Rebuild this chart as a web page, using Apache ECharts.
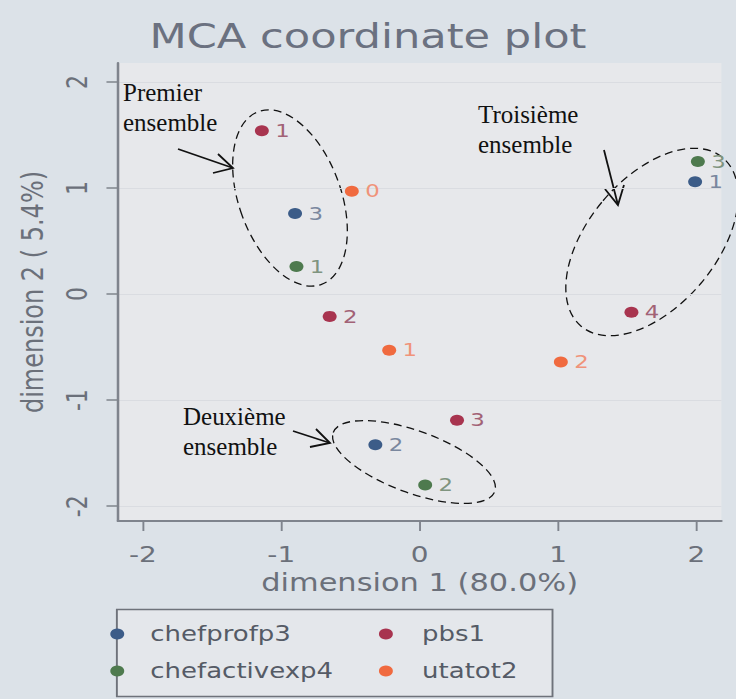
<!DOCTYPE html>
<html>
<head>
<meta charset="utf-8">
<script src="https://cdn.jsdelivr.net/npm/echarts@6/dist/echarts.min.js"></script>
<style>
html,body{margin:0;padding:0;background:#dce2e8;overflow:hidden;}
#chart{width:580px;height:699px;transform:scaleX(1.268966);transform-origin:0 0;}
</style>
</head>
<body>
<div id="chart"></div>
<script>
// ---- data ----
const seriesNames = ['chefprofp3', 'chefactivexp4', 'pbs1', 'utatot2'];
const legendLeftCol = ['chefprofp3', 'chefactivexp4'];
const legendRightCol = ['pbs1', 'utatot2'];

const chefprofp3Cats = ['1', '2', '3'];
const chefprofp3X = [1.99, -0.32, -0.90];
const chefprofp3Y = [1.06, -1.42, 0.76];

const chefactivexp4Cats = ['1', '2', '3'];
const chefactivexp4X = [-0.89, 0.04, 2.01];
const chefactivexp4Y = [0.26, -1.80, 1.25];

const pbs1Cats = ['1', '2', '3', '4'];
const pbs1X = [-1.14, -0.65, 0.27, 1.53];
const pbs1Y = [1.54, -0.21, -1.19, -0.17];

const utatot2Cats = ['0', '1', '2'];
const utatot2X = [-0.49, -0.22, 1.02];
const utatot2Y = [0.97, -0.53, -0.64];

const xTicks = [-2, -1, 0, 1, 2];
const yTicks = [-2, -1, 0, 1, 2];
const titleText = 'MCA coordinate plot';
const xTitle = 'dimension 1 (80.0%)';
const yTitle = 'dimension 2 ( 5.4%)';

// ---- styling ----
const S = 736 / 580;               // horizontal stretch of the photographed chart
const FONT = 'DejaVu Sans';
const markerColors = ['#3c5c88', '#4e7a4e', '#a8344f', '#f06a3f'];
const labelColors = ['#7a879e', '#7f947f', '#a26276', '#f0937a'];

function build(cats, xs, ys) {
  return cats.map((c, i) => ({ value: [xs[i], ys[i]], name: c }));
}
const seriesData = [
  build(chefprofp3Cats, chefprofp3X, chefprofp3Y),
  build(chefactivexp4Cats, chefactivexp4X, chefactivexp4Y),
  build(pbs1Cats, pbs1X, pbs1Y),
  build(utatot2Cats, utatot2X, utatot2Y)
];

const chart = echarts.init(document.getElementById('chart'), null, { renderer: 'svg' });

const legendCommon = {
  orient: 'vertical',
  top: 621,
  padding: 0,
  itemHeight: 11,
  itemGap: 11,
  icon: 'circle',
  selectedMode: false,
  textStyle: { fontFamily: FONT, fontSize: 20.5, color: '#555b66', lineHeight: 26 }
};

const option = {
  animation: false,
  backgroundColor: '#dce2e8',
  title: {
    text: titleText,
    left: 'center',
    top: 19,
    padding: 0,
    textStyle: { fontFamily: FONT, fontSize: 34, fontWeight: 'normal', color: '#6b7180' }
  },
  grid: {
    left: 92.9, right: 11.5, top: 63, bottom: 178,
    show: true, backgroundColor: '#e7e8eb', borderWidth: 0, containLabel: false
  },
  xAxis: {
    type: 'value', min: -2.18, max: 2.18,
    axisLine: { show: true, onZero: false, lineStyle: { color: '#7f848d', width: 2 } },
    axisTick: { show: true, customValues: xTicks, length: 10, lineStyle: { color: '#7f848d', width: 1.5 } },
    axisLabel: { customValues: xTicks, margin: 23, fontFamily: FONT, fontSize: 22, color: '#6b707a' },
    splitLine: { show: false },
    name: xTitle, nameLocation: 'middle', nameGap: 50,
    nameTextStyle: { fontFamily: FONT, fontSize: 24, color: '#6b707a' }
  },
  yAxis: {
    type: 'value', min: -2.14, max: 2.18,
    axisLine: { show: true, onZero: false, lineStyle: { color: '#7f848d', width: 2 } },
    axisTick: { show: true, customValues: yTicks, length: 9, lineStyle: { color: '#7f848d', width: 1.5 } },
    axisLabel: { customValues: yTicks, rotate: 90, margin: 21, fontFamily: FONT, fontSize: 22, color: '#6b707a' },
    splitLine: { show: true, lineStyle: { color: '#dadce1', width: 1 } },
    name: yTitle, nameLocation: 'middle', nameGap: 55, nameRotate: 90,
    nameTextStyle: { fontFamily: FONT, fontSize: 24, color: '#6b707a' }
  },
  legend: [
    Object.assign({}, legendCommon, { data: legendLeftCol, left: 86.9, itemWidth: 42 }),
    Object.assign({}, legendCommon, { data: legendRightCol, left: 298.6, itemWidth: 47 })
  ],
  series: seriesNames.map((nm, i) => ({
    type: 'scatter',
    name: nm,
    data: seriesData[i],
    symbol: 'circle',
    symbolSize: 11,
    z: 3,
    itemStyle: { color: markerColors[i], opacity: 1 },
    label: {
      show: true, position: 'right', distance: 5, formatter: '{b}',
      fontFamily: FONT, fontSize: 18, color: labelColors[i]
    },
    emphasis: { disabled: true }
  })),
  graphic: [
    {
      type: 'rect', z: 0,
      shape: { x: 92.1, y: 609.5, width: 343.3, height: 87 },
      style: { fill: '#e4e7eb', stroke: '#6e727a', lineWidth: 1.5 }
    },
    {
      // annotations drawn in true page pixels (undo the horizontal stretch)
      type: 'group', x: 0, y: 0, scaleX: 1 / S, z: 100,
      children: [
        { type: 'text', x: 123, y: 78,
          style: { text: 'Premier\nensemble', fontFamily: 'Liberation Serif', fontSize: 25, lineHeight: 30, fill: '#111', verticalAlign: 'top' } },
        { type: 'text', x: 478, y: 100,
          style: { text: 'Troisième\nensemble', fontFamily: 'Liberation Serif', fontSize: 25, lineHeight: 30, fill: '#111', verticalAlign: 'top' } },
        { type: 'text', x: 183, y: 402,
          style: { text: 'Deuxième\nensemble', fontFamily: 'Liberation Serif', fontSize: 25, lineHeight: 30, fill: '#111', verticalAlign: 'top' } },

        { type: 'ellipse', x: 290, y: 198, rotation: 0.35,
          shape: { cx: 0, cy: 0, rx: 51, ry: 92 },
          style: { fill: null, stroke: '#111', lineWidth: 1.3, lineDash: [8, 5] } },
        { type: 'ellipse', x: 414, y: 462, rotation: -0.35,
          shape: { cx: 0, cy: 0, rx: 86, ry: 31 },
          style: { fill: null, stroke: '#111', lineWidth: 1.3, lineDash: [8, 5] } },
        { type: 'ellipse', x: 652, y: 242, rotation: -0.70,
          shape: { cx: 0, cy: 0, rx: 64, ry: 110 },
          style: { fill: null, stroke: '#111', lineWidth: 1.3, lineDash: [8, 5] } },

        { type: 'polyline', shape: { points: [[178, 149], [233, 168]] }, style: { stroke: '#111', lineWidth: 1.8, fill: null } },
        { type: 'polyline', shape: { points: [[218, 154], [233, 168], [213, 173]] }, style: { stroke: '#111', lineWidth: 1.8, fill: null } },
        { type: 'polyline', shape: { points: [[604, 150], [618, 205]] }, style: { stroke: '#111', lineWidth: 1.8, fill: null } },
        { type: 'polyline', shape: { points: [[605, 189], [618, 205], [624, 185]] }, style: { stroke: '#111', lineWidth: 1.8, fill: null } },
        { type: 'polyline', shape: { points: [[293, 431], [330, 443]] }, style: { stroke: '#111', lineWidth: 1.8, fill: null } },
        { type: 'polyline', shape: { points: [[316, 429], [330, 443], [310, 447]] }, style: { stroke: '#111', lineWidth: 1.8, fill: null } }
      ]
    }
  ]
};

chart.setOption(option);
</script>
</body>
</html>
